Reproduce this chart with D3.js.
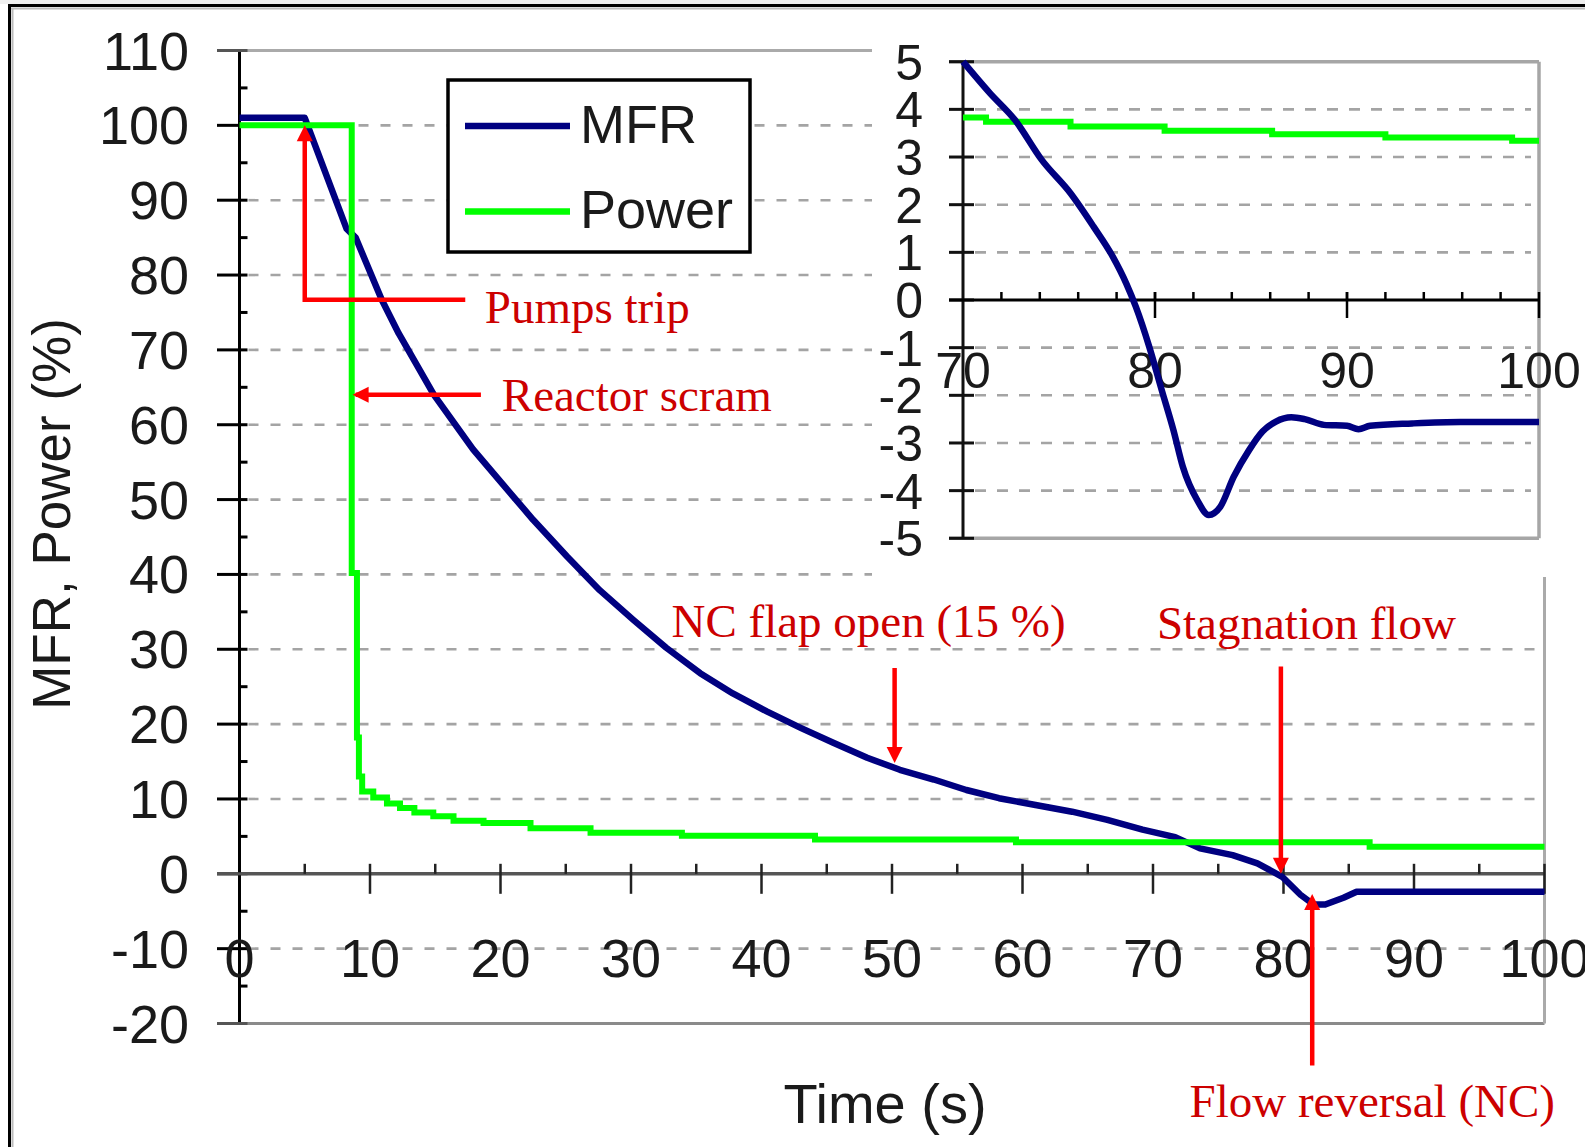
<!DOCTYPE html>
<html><head><meta charset="utf-8">
<script src="https://cdn.jsdelivr.net/npm/d3@7"></script>
<style>html,body{margin:0;padding:0;background:#fff;} svg{display:block}</style>
</head><body>
<svg id="c" width="1585" height="1147"></svg>
<script>
// ---------- DATA ----------
const xTicksMain = [0,10,20,30,40,50,60,70,80,90,100];
const yTicksMain = [-20,-10,0,10,20,30,40,50,60,70,80,90,100,110];
const insetXTicks = [70,80,90,100];
const insetYTicks = [-5,-4,-3,-2,-1,0,1,2,3,4,5];
const seriesNames = ["MFR","Power"];

// main chart: [time s, %]
const mfrMain = [[0,101],[5.0,101],[8.2,86.2],[8.9,85.0],[10.9,76.7],[12.2,72.2],[14.9,64.0],[17.9,56.7],
  [20.0,52.4],[22.5,47.3],[25.1,42.4],[27.6,37.9],[30.2,33.9],[32.7,30.2],[35.3,26.8],[37.8,24.1],
  [40.4,21.7],[43.0,19.5],[45.5,17.5],[48.1,15.5],[50.6,13.9],[53.2,12.6],[55.7,11.2],[58.2,10.1],
  [61.0,9.2],[63.8,8.3],[66.5,7.2],[69.2,5.9],[71.7,4.9],[73.6,3.4],[76.1,2.5],[78.0,1.4],[79.9,-0.4],
  [81.3,-2.8],[82.3,-4.1],[83.2,-4.1],[84.6,-3.2],[85.6,-2.4],[100,-2.4]];
const powerMain = [[0,100],[8.6,40.2],[9.0,18.2],[9.15,13.0],[9.4,11.0],[10.25,10.2],[11.3,9.4],[12.3,8.8],
  [13.4,8.2],[14.85,7.7],[16.4,7.1],[18.7,6.8],[22.3,6.1],[26.9,5.5],[33.9,5.1],[44.1,4.6],[59.5,4.2],
  [86.6,3.6],[100,3.6]];

// inset chart (70-100 s zoom)
const mfrInset = [[70.0,5.0],[71.4,4.34],[72.7,3.78],[74.1,2.94],[75.6,2.24],[76.8,1.54],[77.8,0.91],
  [78.5,0.35],[79.0,-0.14],[79.7,-0.98],[80.35,-1.89],[80.96,-2.73],[81.45,-3.5],[82.2,-4.2],[82.8,-4.51],
  [83.4,-4.34],[84.1,-3.71],[84.9,-3.15],[85.6,-2.76],[86.3,-2.55],[87.1,-2.46],[87.8,-2.5],[88.8,-2.62],
  [90.0,-2.64],[90.6,-2.71],[91.2,-2.64],[93.4,-2.59],[95.9,-2.56],[100,-2.56]];
const powerInset = [[70,3.83],[71.2,3.74],[75.6,3.64],[80.5,3.55],[86.1,3.48],[92.0,3.41],[98.6,3.34],[100,3.34]];

// annotations: [label, textT, textV]
const annotTexts = [["Pumps trip",18.8,73.6],["Reactor scram",20.1,61.8],["NC flap open (15 %)",33.1,31.7],
  ["Stagnation flow",70.3,31.4],["Flow reversal (NC)",72.8,-32.5]];

// ---------- DRAW ----------
const svg = d3.select("#c");
const x = d3.scaleLinear().domain([0,100]).range([239.5,1544.5]);
const y = d3.scaleLinear().domain([-20,110]).range([1023.5,50.5]);
const xi = d3.scaleLinear().domain([70,100]).range([963,1539]);
const yi = d3.scaleLinear().domain([-5,5]).range([538.3,61.7]);

const SANS = "'Liberation Sans', Arial, sans-serif";
const SERIF = "'Liberation Serif', 'Times New Roman', serif";
const NAVY = "#000080", GREEN = "#00ff00";

svg.append("rect").attr("x",0).attr("y",0).attr("width",1585).attr("height",1147).attr("fill","#fff");
svg.append("rect").attr("x",0).attr("y",0).attr("width",1585).attr("height",4).attr("fill","#efefef");

function ln(g,x1,y1,x2,y2,color,w,dash){
  const l=g.append("line").attr("x1",x1).attr("y1",y1).attr("x2",x2).attr("y2",y2)
    .attr("stroke",color).attr("stroke-width",w);
  if(dash) l.attr("stroke-dasharray",dash);
  return l;
}

const main = svg.append("g");
// gridlines
yTicksMain.filter(v=>v!==-20&&v!==0&&v!==110).forEach(v=>{
  ln(main,x(0)+9,y(v),x(100)-5,y(v),"#a4a4a4",2.6,"10,12");
});
// borders
ln(main,217,y(110),878,y(110),"#aaa",3);
ln(main,x(0),y(-20),x(100),y(-20),"#8a8a8a",3);
ln(main,x(100),y(-20),x(100),y(110),"#aaa",3);
// x axis
ln(main,217,y(0),x(100),y(0),"#555",3.5);
// x ticks
xTicksMain.filter(t=>t>0).forEach(t=>ln(main,x(t),y(0)-10,x(t),y(0)+20,"#222",2.5));
d3.range(5,100,10).forEach(t=>ln(main,x(t),y(0)-10,x(t),y(0),"#222",2.5));
// y axis
ln(main,x(0),y(110),x(0),y(-20),"#000",3);
yTicksMain.forEach(v=>ln(main,217,y(v),x(0)+8,y(v),(v===110||v===-20||v===0)?"#555":"#000",3));
d3.range(-15,110,10).forEach(v=>ln(main,x(0),y(v),x(0)+8,y(v),"#000",3));
// tick labels
main.selectAll(".yl").data(yTicksMain).enter().append("text")
  .attr("x",189).attr("y",v=>y(v)+19).attr("text-anchor","end")
  .attr("font-family",SANS).attr("font-size",54).attr("fill","#1a1a1a").text(v=>v);
main.selectAll(".xl").data(xTicksMain).enter().append("text")
  .attr("x",t=>x(t)).attr("y",977).attr("text-anchor","middle")
  .attr("font-family",SANS).attr("font-size",54).attr("fill","#1a1a1a").text(t=>t);
// axis titles
main.append("text").attr("transform","translate(70,514) rotate(-90)").attr("text-anchor","middle")
  .attr("font-family",SANS).attr("font-size",53).attr("fill","#1a1a1a").text("MFR, Power (%)");
main.append("text").attr("x",885).attr("y",1123).attr("text-anchor","middle")
  .attr("font-family",SANS).attr("font-size",56).attr("fill","#1a1a1a").text("Time (s)");

// series
const lineMain = d3.line().x(d=>x(d[0])).y(d=>y(d[1]));
const stepMain = d3.line().x(d=>x(d[0])).y(d=>y(d[1])).curve(d3.curveStepAfter);
main.append("path").attr("d",lineMain(mfrMain)).attr("fill","none").attr("stroke",NAVY)
  .attr("stroke-width",6.5).attr("stroke-linejoin","round");
main.append("path").attr("d",stepMain(powerMain)).attr("fill","none").attr("stroke",GREEN)
  .attr("stroke-width",6);

// legend
const lg = svg.append("g");
lg.append("rect").attr("x",448).attr("y",80).attr("width",302).attr("height",172)
  .attr("fill","#fff").attr("stroke","#000").attr("stroke-width",3.5);
[[NAVY,126,143],[GREEN,211.5,228]].forEach((s,i)=>{
  ln(lg,465,s[1],570,s[1],s[0],6.5);
  lg.append("text").attr("x",580).attr("y",s[2]).attr("font-family",SANS).attr("font-size",54)
    .attr("fill","#1a1a1a").text(seriesNames[i]);
});

// ---------- INSET ----------
const ins = svg.append("g");
ins.append("rect").attr("x",872).attr("y",9).attr("width",713).attr("height",568).attr("fill","#fff");
insetYTicks.filter(v=>v!==0&&Math.abs(v)!==5).forEach(v=>
  ln(ins,xi(70)+12,yi(v),xi(100)-8,yi(v),"#a4a4a4",2.6,"11,11"));
ln(ins,xi(70)-14,yi(5),xi(100),yi(5),"#a6a6a6",3.5);
ln(ins,xi(70)-14,yi(-5),xi(100),yi(-5),"#a6a6a6",3.5);
ln(ins,xi(100),yi(5),xi(100),yi(-5),"#a6a6a6",3.5);
ln(ins,xi(70),yi(5),xi(70),yi(-5),"#111",3);
insetYTicks.forEach(v=>ln(ins,xi(70)-14,yi(v),xi(70)+11,yi(v),"#111",3));
ln(ins,xi(70)-14,yi(0),xi(100),yi(0),"#000",3);
d3.range(72,100,2).forEach(t=>ln(ins,xi(t),yi(0)-8,xi(t),yi(0),"#000",2.5));
insetXTicks.filter(t=>t>70).forEach(t=>ln(ins,xi(t),yi(0)-8,xi(t),yi(0)+18,"#000",2.5));
ins.selectAll(".iyl").data(insetYTicks).enter().append("text")
  .attr("x",923).attr("y",v=>yi(v)+18).attr("text-anchor","end")
  .attr("font-family",SANS).attr("font-size",50).attr("fill","#1a1a1a").text(v=>v);
ins.selectAll(".ixl").data(insetXTicks).enter().append("text")
  .attr("x",t=>xi(t)).attr("y",388).attr("text-anchor","middle")
  .attr("font-family",SANS).attr("font-size",50).attr("fill","#1a1a1a").text(t=>t);
const lineIn = d3.line().x(d=>xi(d[0])).y(d=>yi(d[1])).curve(d3.curveMonotoneX);
const stepIn = d3.line().x(d=>xi(d[0])).y(d=>yi(d[1])).curve(d3.curveStepAfter);
ins.append("path").attr("d",stepIn(powerInset)).attr("fill","none").attr("stroke",GREEN).attr("stroke-width",6);
ins.append("path").attr("d",lineIn(mfrInset)).attr("fill","none").attr("stroke",NAVY)
  .attr("stroke-width",6.5).attr("stroke-linejoin","round");

// ---------- ANNOTATIONS ----------
const an = svg.append("g");
const RED = "#ff0000";
function head(px,py,dir){ // tip at px,py; dir: up/down/left
  const L=16,Wd=8;
  let p;
  if(dir==="up") p=[[px,py],[px-Wd,py+L],[px+Wd,py+L]];
  else if(dir==="down") p=[[px,py],[px-Wd,py-L],[px+Wd,py-L]];
  else p=[[px,py],[px+L,py-Wd],[px+L,py+Wd]];
  an.append("path").attr("d","M"+p.map(q=>q.join(",")).join("L")+"Z").attr("fill",RED);
}
// Pumps trip
an.append("path").attr("d",`M${x(5.0)},${y(99)}L${x(5.0)},${y(76.7)}L${x(17.3)},${y(76.7)}`)
  .attr("fill","none").attr("stroke",RED).attr("stroke-width",4.5);
head(x(5.0),y(100),"up");
// Reactor scram
ln(an,x(8.9),y(64.0),x(18.5),y(64.0),RED,4.5);
head(x(8.67),y(64.0),"left");
// NC flap
ln(an,x(50.2),y(27.5),x(50.2),y(16.5),RED,4.5);
head(x(50.2),y(14.8),"down");
// Stagnation
ln(an,x(79.8),y(27.7),x(79.8),y(1.5),RED,4.5);
head(x(79.8),y(0),"down");
// Flow reversal
ln(an,x(82.2),y(-25.6),x(82.2),y(-4.5),RED,4.5);
head(x(82.2),y(-2.7),"up");
an.selectAll(".at").data(annotTexts).enter().append("text")
  .attr("x",d=>x(d[1])).attr("y",d=>y(d[2])).attr("font-family",SERIF).attr("font-size",47)
  .attr("fill","#cc0000").text(d=>d[0]);

// frame
ln(svg,8,5.5,1585,5.5,"#000",3);
ln(svg,8,8.5,1585,8.5,"#bbb",2);
ln(svg,9.5,4,9.5,1147,"#000",3);
ln(svg,12.5,8,12.5,1147,"#bbb",2);
</script>
</body></html>
